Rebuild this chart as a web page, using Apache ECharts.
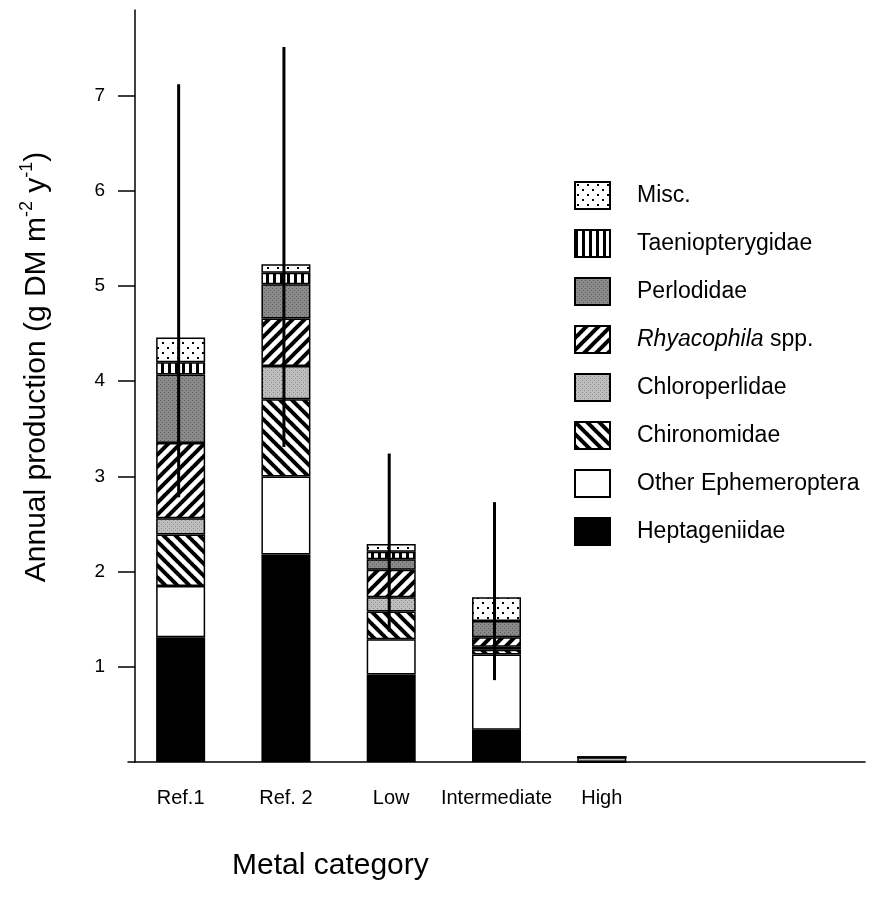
<!DOCTYPE html>
<html>
<head>
<meta charset="utf-8">
<script src="https://cdn.jsdelivr.net/npm/echarts@6/dist/echarts.min.js"></script>
<style>
  html, body { margin: 0; padding: 0; background: #fff; }
  #chart { width: 875px; height: 898px; }
</style>
</head>
<body>
<div id="chart"></div>
<script>
"use strict";
// metal categories (two empty slots keep the axis running on to the right)
var categories = ['Ref.1', 'Ref. 2', 'Low', 'Intermediate', 'High', '', ''];

// stacked production per taxon, bottom to top (g DM m-2 y-1)
var heptageniidae    = [1.31, 2.18, 0.92, 0.34, 0];
var otherEphemero    = [0.54, 0.82, 0.37, 0.79, 0];
var chironomidae     = [0.54, 0.81, 0.29, 0.05, 0];
var chloroperlidae   = [0.17, 0.35, 0.15, 0.03, 0.05];
var rhyacophila      = [0.79, 0.50, 0.29, 0.10, 0];
var perlodidae       = [0.72, 0.36, 0.11, 0.17, 0];
var taeniopterygidae = [0.13, 0.12, 0.08, 0, 0];
var misc             = [0.26, 0.09, 0.08, 0.25, 0];

// error bar ranges: [category index, low, high]
var errorBars = [
  [0, 2.78, 7.12],
  [1, 3.31, 7.51],
  [2, 1.37, 3.24],
  [3, 0.86, 2.73]
];

var yTicks = [1, 2, 3, 4, 5, 6, 7];

var FONT = '"Liberation Sans", Arial, Helvetica, sans-serif';

function tile(size, draw) {
  var c = document.createElement('canvas');
  c.width = c.height = size;
  var ctx = c.getContext('2d');
  ctx.fillStyle = '#fff';
  ctx.fillRect(0, 0, size, size);
  draw(ctx, size);
  return { image: c, repeat: 'repeat' };
}

function diag(forward) {
  return tile(12, function (ctx, s) {
    ctx.strokeStyle = '#000';
    ctx.lineWidth = 4;
    for (var k = -1; k <= 1; k++) {
      ctx.beginPath();
      if (forward) {
        ctx.moveTo(k * s - 1, s + 1);
        ctx.lineTo(k * s + s + 1, -1);
      } else {
        ctx.moveTo(k * s - 1, -1);
        ctx.lineTo(k * s + s + 1, s + 1);
      }
      ctx.stroke();
    }
  });
}

var patDots = tile(10, function (ctx) {
  ctx.fillStyle = '#000';
  ctx.fillRect(2, 2, 2, 2);
  ctx.fillRect(7, 7, 2, 2);
});
var patVert = tile(7, function (ctx) {
  ctx.fillStyle = '#000';
  ctx.fillRect(0, 0, 3, 7);
});
var patDark = tile(4, function (ctx) {
  ctx.fillStyle = '#8a8a8a';
  ctx.fillRect(0, 0, 4, 4);
  ctx.fillStyle = '#5e5e5e';
  ctx.fillRect(0, 0, 1, 1);
  ctx.fillRect(2, 2, 1, 1);
});
var patLight = tile(4, function (ctx) {
  ctx.fillStyle = '#bdbdbd';
  ctx.fillRect(0, 0, 4, 4);
  ctx.fillStyle = '#8e8e8e';
  ctx.fillRect(1, 0, 1, 1);
  ctx.fillRect(3, 2, 1, 1);
});

var layers = [
  { name: 'Heptageniidae', data: heptageniidae, color: '#000' },
  { name: 'Other Ephemeroptera', data: otherEphemero, color: '#fff' },
  { name: 'Chironomidae', data: chironomidae, color: diag(false) },
  { name: 'Chloroperlidae', data: chloroperlidae, color: patLight },
  { name: 'Rhyacophila spp.', data: rhyacophila, color: diag(true) },
  { name: 'Perlodidae', data: perlodidae, color: patDark },
  { name: 'Taeniopterygidae', data: taeniopterygidae, color: patVert },
  { name: 'Misc.', data: misc, color: patDots }
];

var series = layers.map(function (l) {
  return {
    name: l.name,
    type: 'bar',
    stack: 'total',
    barWidth: 49,
    data: l.data,
    itemStyle: { color: l.color, borderColor: '#000', borderWidth: 1.5 }
  };
});

series.push({
  name: 'error',
  type: 'custom',
  z: 5,
  data: errorBars,
  renderItem: function (params, api) {
    var lo = api.coord([api.value(0), api.value(1)]);
    var hi = api.coord([api.value(0), api.value(2)]);
    return {
      type: 'line',
      shape: { x1: lo[0] - 2, y1: lo[1], x2: hi[0] - 2, y2: hi[1] },
      style: { stroke: '#000', lineWidth: 3 }
    };
  }
});

var chart = echarts.init(document.getElementById('chart'));
chart.setOption({
  backgroundColor: '#fff',
  animation: false,
  textStyle: { fontFamily: FONT, color: '#000' },
  // grid starts a little left of the drawn y axis so the bars sit where the original has them
  grid: { left: 128, right: 10, top: 10, bottom: 136 },
  legend: {
    orient: 'vertical',
    left: 574,
    top: 181,
    padding: 0,
    itemWidth: 35,
    itemHeight: 27,
    itemGap: 19,
    icon: 'rect',
    data: layers.map(function (l) { return l.name; }).reverse(),
    selectedMode: false,
    formatter: function (name) {
      if (name === 'Rhyacophila spp.') return '{i|Rhyacophila} spp.';
      return name;
    },
    textStyle: {
      fontFamily: FONT,
      fontSize: 23,
      color: '#000',
      padding: [0, 0, 0, 22],
      rich: {
        i: { fontFamily: FONT, fontSize: 23, fontStyle: 'italic', color: '#000' }
      }
    }
  },
  xAxis: {
    type: 'category',
    data: categories,
    axisLine: { lineStyle: { color: '#000', width: 1.5 } },
    axisTick: { show: false },
    axisLabel: { fontFamily: FONT, fontSize: 20, color: '#000', margin: 26, interval: 0 }
  },
  yAxis: {
    type: 'value',
    min: 0,
    max: 7.9,
    offset: -7,
    splitLine: { show: false },
    axisLine: { show: true, lineStyle: { color: '#000', width: 1.5 } },
    axisTick: { show: true, length: 17, lineStyle: { color: '#000', width: 1.5 }, customValues: yTicks },
    axisLabel: { fontFamily: FONT, fontSize: 19, color: '#000', margin: 30, customValues: yTicks },
    name: '{a|Annual production (g DM m}{s|-2}{a| y}{s|-1}{a|)}',
    nameLocation: 'middle',
    nameGap: 79,
    nameTextStyle: {
      padding: [0, 0, 0, 38],
      rich: {
        a: { fontFamily: FONT, fontSize: 30, color: '#000', lineHeight: 38 },
        s: { fontFamily: FONT, fontSize: 18, color: '#000', lineHeight: 38, verticalAlign: 'top' }
      }
    }
  },
  graphic: [{
    type: 'text',
    left: 232,
    top: 851,
    style: { text: 'Metal category', font: '30px ' + FONT, fill: '#000' }
  }],
  series: series
});
</script>
</body>
</html>
